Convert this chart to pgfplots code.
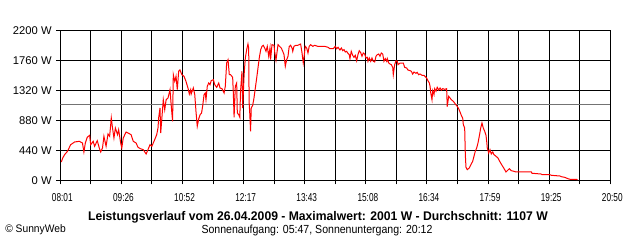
\documentclass[border=0pt]{standalone}
\usepackage{fontspec}
\setmainfont{Liberation Sans}
\newfontfamily\narrowfont[FakeStretch=0.72]{Liberation Sans}
\newfontfamily\midfont[FakeStretch=0.9]{Liberation Sans}
\newfontfamily\titlefont[FakeStretch=0.97]{Liberation Sans}
\newfontfamily\widefont[FakeStretch=0.94]{Liberation Sans}
\usepackage{pgfplots}
\pgfplotsset{compat=1.18}
\begin{document}
\begin{tikzpicture}
\path[use as bounding box] (0,0) rectangle (480pt,180pt);
\begin{axis}[
  at={(45.225pt,44.775pt)}, anchor=south west,
  width=412.5pt, height=112.5pt, scale only axis,
  xmin=0, xmax=769, ymin=0, ymax=2200,
  axis line style={black, line width=0.75pt},
  grid=major, major grid style={black, line width=0.75pt},
  tick style={black, line width=0.75pt},
  tick align=outside, major tick length=3pt,
  xtick pos=bottom, ytick pos=left,
  xtick={0,42.722,85.444,128.167,170.889,213.611,256.333,299.056,341.778,384.5,427.222,469.944,512.667,555.389,598.111,640.833,683.556,726.278,769},
  xticklabels={08:01,,09:26,,10:52,,12:17,,13:43,,15:08,,16:34,,17:59,,19:25,,20:50},
  ytick={0,440,880,1320,1760,2200},
  yticklabels={0 W,440 W,880 W,1320 W,1760 W,2200 W},
  xticklabel style={font=\narrowfont\fontsize{8.6}{10}\selectfont, yshift=-3pt, xshift=1.5pt},
  yticklabel style={font=\fontsize{8.4}{10}\selectfont},
]
\addplot[color=gray!90!black, line width=0.75pt] coordinates {(0,1107) (769,1107)};
\addplot[color=red, line width=0.75pt, sharp plot] coordinates {
(1.4,268) (3.4,327) (6,376) (10,425) (14.5,522) (20,562) (26.6,572) (31,547) (33,415) (35,547)
(37.7,631) (41,660) (42.5,522) (46,572) (48,499) (51.7,581) (54.5,474) (56.5,415) (59,474) (61,645)
(64,499) (66.7,679) (69,645) (71.3,914) (73,767) (75,620) (77,767) (80,669) (81.6,742) (84.4,547)
(86,474) (88,620) (92,708) (94.7,694) (99,669) (102,572) (106,547) (108.6,484) (112,464) (116,449)
(120,386) (122.6,449) (125.4,522) (128,499) (132,596) (134.8,669) (136.6,767) (137.5,914) (139.4,1060) (140.4,694)
(142.2,939) (144,1182) (146,1035) (148,1182) (150.6,1207) (153.4,1329) (155,1109) (157,865) (158,1549) (160,1452)
(161.8,1525) (163.6,1329) (165.5,1599) (167.3,1618) (170,1549) (173,1525) (175.7,1452) (178.5,1354) (180.4,1266) (182.3,1329)
(183,1266) (186,1354) (188,1256) (189.7,1012) (191.5,792) (193.5,900) (195.5,962) (197.5,987) (199,1085) (201,1256)
(202.7,1280) (203.7,1182) (205.5,1379) (207.5,1427) (209.3,1402) (211,1461) (214,1476) (216,1402) (218.7,1364) (221.5,1427)
(223.3,1354) (226,1344) (229,1280) (230.7,1379) (232.6,1720) (234.5,1769) (236.3,1549) (238,1549) (241,1511) (242,1256)
(243,924) (244.7,1379) (246.6,1427) (247.5,987) (249.5,962) (251,924) (252,1305) (254,1599) (255,1060) (257,1549)
(258.7,1794) (260.6,1916) (262.4,1999) (263.4,1940) (264,1159) (265,962) (266,719) (267,1060) (269,1100) (270.8,1207)
(272.7,1354) (274.6,1500) (276.4,1647) (278.2,1794) (280.2,1916) (282,1965) (283.8,1980) (285.8,1940) (287.6,1892) (289.4,1965)
(291.4,1819) (293.2,1940) (294,1769) (296,1989) (298.8,1980) (299.8,1882) (301.6,1764) (304.4,1989) (307,1960) (309,1940)
(311,1892) (312.8,1843) (314.6,1672) (316.5,1769) (318.4,1819) (320,1960) (322,1980) (324,1940) (325,1892) (326.7,1965)
(329.5,1980) (332,1980) (334,1989) (336,1999) (338,1867) (339.7,1720) (340.7,1794) (342.5,1965) (344.5,1940) (346.3,1867)
(348,1965) (350,1989) (353,1965) (355.7,1980) (360,1965) (369.7,1965) (374.3,1951) (377,1930) (381.7,1930) (384.5,1965)
(386.4,1930) (388.3,1951) (391,1911) (393,1940) (394.8,1901) (396.7,1916) (398.5,1882) (400.4,1892) (402.2,1862) (404,1843)
(405,1784) (406.8,1892) (408.8,1833) (410.6,1804) (412.4,1833) (414.4,1754) (416.2,1843) (418,1901) (420,1872) (421.8,1819)
(423.6,1867) (425.6,1852) (427.4,1794) (429.2,1804) (430.2,1745) (432,1794) (434,1745) (435.8,1794) (437.6,1745) (439.6,1735)
(441.4,1819) (443.2,1843) (445.2,1852) (447,1819) (448.8,1867) (450.8,1852) (452.6,1745) (454.4,1784) (456.4,1745) (457.2,1784)
(459.2,1720) (461,1706) (462.8,1696) (464.8,1657) (465.6,1549) (467.5,1696) (469.4,1754) (471.2,1745) (472.2,1696) (475,1720)
(479.6,1720) (481.5,1657) (484.3,1647) (486,1618) (489,1608) (490.8,1599) (492.7,1559) (494.5,1588) (497.3,1569) (499,1584)
(501,1549) (503,1559) (505.7,1540) (508.5,1540) (510.3,1520) (512.2,1500) (514,1461) (516,1427) (517,1379) (518,1280)
(519.7,1182) (520.7,1314) (522.5,1256) (523.5,1344) (525.3,1305) (527,1364) (529,1324) (531,1354) (532.7,1324) (534.7,1344)
(537.4,1334) (540.2,1344) (541,1080) (543,1232) (544.9,1207) (546.7,1182) (549.5,1159) (552.3,1119) (555,1085) (557,1050)
(558.9,1002) (560.7,953) (562.6,914) (563.5,816) (565.4,767) (566.3,376) (567.2,191) (569,156) (571.8,180) (573.7,220)
(576.6,279) (578.4,352) (580.2,425) (582.2,474) (584,547) (585.8,645) (587.8,767) (589.6,840) (591.4,767) (593.4,719)
(595.2,660) (596.2,572) (597,474) (599,400) (600.8,449) (602.6,386) (604.6,415) (606.4,376) (609.2,352) (612,327)
(613.8,288) (615.7,254) (617.6,220) (619.4,191) (621.3,156) (623.2,122) (625,141) (627.8,170) (630.6,141) (634.3,132)
(637,122) (658.6,122) (659.5,103) (672.5,92) (673.5,82) (684.7,82) (686.5,73) (698.7,63) (700.5,53) (705.2,44)
(710,23) (712.6,15) (722,15) (723,4)
};
\end{axis}
\node[font=\titlefont\bfseries\fontsize{9.4}{11}\selectfont, inner sep=0pt] at (238.5pt,17pt) {Leistungsverlauf vom 26.04.2009 - Maximalwert: 2001 W - Durchschnitt: 1107 W};
\node[font=\midfont\fontsize{8.8}{10}\selectfont, inner sep=0pt] at (237.75pt,7.5pt) {Sonnenaufgang: 05:47, Sonnenuntergang: 20:12};
\node[font=\widefont\fontsize{8.2}{9}\selectfont, inner sep=0pt, anchor=west] at (3.75pt,7.5pt) {© SunnyWeb};
\end{tikzpicture}
\end{document}
